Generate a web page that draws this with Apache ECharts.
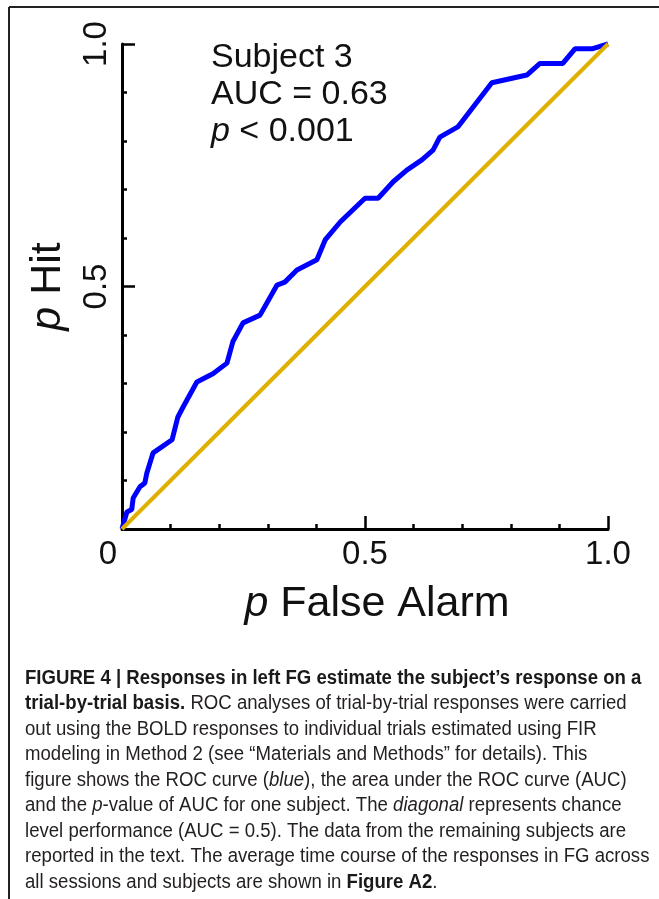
<!DOCTYPE html>
<html>
<head>
<meta charset="utf-8">
<script src="https://cdn.jsdelivr.net/npm/echarts@6/dist/echarts.min.js"></script>
<style>
  html, body { margin: 0; padding: 0; background: #fff; }
  #chart { width: 659px; height: 899px; }
</style>
</head>
<body>
<div id="chart"></div>
<script>
// ROC curve (false alarm rate, hit rate)
var rocFA = [0, 0.01, 0.02, 0.023, 0.037, 0.047, 0.051, 0.064, 0.103, 0.115, 0.126, 0.154, 0.187, 0.216, 0.228, 0.249, 0.284, 0.319, 0.335, 0.36, 0.401, 0.418, 0.449, 0.5, 0.527, 0.558, 0.586, 0.617, 0.64, 0.654, 0.691, 0.761, 0.833, 0.86, 0.907, 0.932, 0.967, 1.0]
var rocHit = [0, 0.035, 0.04, 0.064, 0.087, 0.095, 0.115, 0.157, 0.184, 0.231, 0.252, 0.303, 0.32, 0.342, 0.386, 0.425, 0.441, 0.503, 0.509, 0.534, 0.555, 0.596, 0.633, 0.682, 0.682, 0.716, 0.74, 0.761, 0.781, 0.808, 0.829, 0.92, 0.936, 0.96, 0.96, 0.99, 0.99, 1.0]
// chance diagonal
var chanceFA = [0, 1]
var chanceHit = [0, 1]
// axis ticks
var tickMin = 0
var tickMax = 1
var tickStep = 0.5

var annotLines = ['Subject 3', 'AUC = 0.63', '{i|p} < 0.001']

// caption, one entry per printed line
var captionLines = [
  '{b|FIGURE 4 | Responses in left FG estimate the subject\u2019s response on a}',
  '{b|trial-by-trial basis.} ROC analyses of trial-by-trial responses were carried',
  'out using the BOLD responses to individual trials estimated using FIR',
  'modeling in Method 2 (see \u201cMaterials and Methods\u201d for details). This',
  'figure shows the ROC curve ({i|blue}), the area under the ROC curve (AUC)',
  'and the {i|p}-value of AUC for one subject. The {i|diagonal} represents chance',
  'level performance (AUC = 0.5). The data from the remaining subjects are',
  'reported in the text. The average time course of the responses in FG across',
  'all sessions and subjects are shown in {b|Figure A2}.'
]

var font = '"Liberation Sans", Arial, sans-serif'
var chart = echarts.init(document.getElementById('chart'))

function pairs(xs, ys) {
  return xs.map(function(x, i) { return [x, ys[i]] })
}

var graphics = [
  // figure frame (open on right and bottom)
  { type: 'line', shape: { x1: 9, y1: 7, x2: 659, y2: 7 }, style: { stroke: '#222', lineWidth: 2 } },
  { type: 'line', shape: { x1: 9, y1: 7, x2: 9, y2: 899 }, style: { stroke: '#222', lineWidth: 2 } },
  {
    type: 'text',
    x: 211,
    y: 39,
    style: {
      text: annotLines.join('\n'),
      font: '34px ' + font,
      fill: '#111',
      lineHeight: 37,
      rich: { i: { fontStyle: 'italic', fontSize: 34, fontFamily: font, fill: '#111', lineHeight: 37 } }
    }
  }
]

captionLines.forEach(function(line, i) {
  graphics.push({
    type: 'text',
    x: 25,
    y: 678 + i * 25.5,
    scaleX: 0.93,
    style: {
      text: line,
      fontSize: 20,
      fontFamily: font,
      fill: '#231f20',
      verticalAlign: 'middle',
      rich: {
        b: { fontWeight: 'bold', fontSize: 20, fontFamily: font, fill: '#1a1a1a' },
        i: { fontStyle: 'italic', fontSize: 20, fontFamily: font, fill: '#231f20' }
      }
    }
  })
})

var axisCommon = {
  type: 'value',
  min: tickMin,
  max: tickMax,
  interval: tickStep,
  nameLocation: 'middle',
  axisLine: { show: true, lineStyle: { color: '#000', width: 3 } },
  axisTick: { show: true, inside: true, length: 13, lineStyle: { color: '#000', width: 2.5 } },
  minorTick: { show: true, splitNumber: 5, length: 5, lineStyle: { color: '#000', width: 2.5 } },
  splitLine: { show: false },
  minorSplitLine: { show: false }
}

chart.setOption({
  animation: false,
  backgroundColor: '#fff',
  grid: { left: 122, right: 51, top: 44, bottom: 370 },
  xAxis: Object.assign({}, axisCommon, {
    name: '{i|p} False Alarm',
    nameGap: 54,
    nameTextStyle: {
      fontSize: 43, fontFamily: font, color: '#111',
      padding: [0, 0, 0, 24],
      rich: { i: { fontStyle: 'italic', fontSize: 43, fontFamily: font, color: '#111' } }
    },
    axisLabel: {
      margin: 9,
      fontSize: 33,
      fontFamily: font,
      color: '#111',
      formatter: function(v) { return v === 0 ? '{z|0}' : v.toFixed(1) },
      rich: { z: { fontSize: 33, fontFamily: font, color: '#111', padding: [0, 28, 0, 0] } }
    }
  }),
  yAxis: Object.assign({}, axisCommon, {
    name: '{i|p} Hit',
    nameGap: 52,
    nameRotate: 90,
    nameTextStyle: {
      fontSize: 43, fontFamily: font, color: '#111',
      rich: { i: { fontStyle: 'italic', fontSize: 43, fontFamily: font, color: '#111' } }
    },
    axisLabel: {
      margin: 9,
      rotate: 90,
      fontSize: 33,
      fontFamily: font,
      color: '#111',
      formatter: function(v) { return v === 0 ? '' : v.toFixed(1) }
    }
  }),
  series: [
    {
      name: 'ROC',
      type: 'line',
      data: pairs(rocFA, rocHit),
      showSymbol: false,
      clip: false,
      lineStyle: { color: '#0000ff', width: 5 },
      z: 2
    },
    {
      name: 'chance',
      type: 'line',
      data: pairs(chanceFA, chanceHit),
      showSymbol: false,
      clip: false,
      lineStyle: { color: '#e0b000', width: 4 },
      z: 3
    }
  ],
  graphic: graphics
})
</script>
</body>
</html>
